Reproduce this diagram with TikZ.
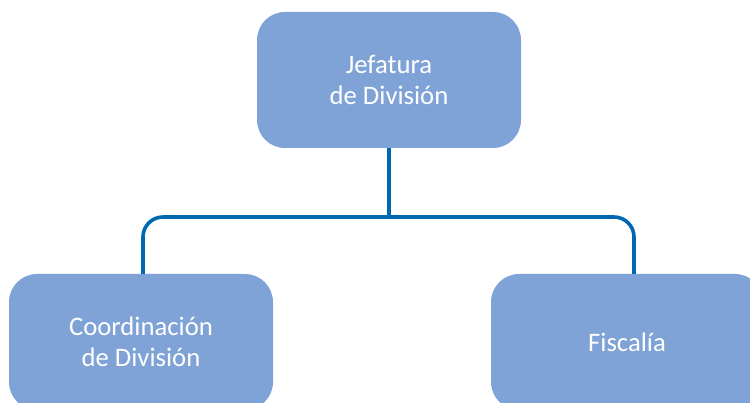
\documentclass[tikz,border=0pt]{standalone}
\usepackage{fontspec}
\setmainfont{Carlito}
\usepackage{xcolor}

\begin{document}
\begin{tikzpicture}[x=1pt,y=-1pt,
  unidad/.style={rectangle,rounded corners=28pt,fill=cajaazul,text=white,align=center,
    minimum width=264pt,minimum height=136pt,inner sep=0pt,
    font=\fontsize{26.7}{31}\selectfont},
  enlace/.style={draw=lineaazul,line width=3.6pt,rounded corners=20pt}]
\definecolor{cajaazul}{HTML}{7FA3D6}
\definecolor{lineaazul}{HTML}{0067B1}
\useasboundingbox (0,0) rectangle (750,403);
\node [unidad] (jefatura) at (389,80) {Jefatura\\de División};
  \foreach \nombre/\pos/\ancho/\texto in {coordinacion/141/264/{Coordinación\\de División},fiscalia/627/272/Fiscalía}
  {  \node [unidad,minimum width=\ancho] (\nombre) at (\pos,342) {\texto};}
\coordinate (cruce) at (389,217);
\draw [enlace] (jefatura.south) -- (cruce);
\draw [enlace] ([xshift=2pt]coordinacion.north) |- (cruce) -| ([xshift=7pt]fiscalia.north);
\end{tikzpicture}
\end{document}
